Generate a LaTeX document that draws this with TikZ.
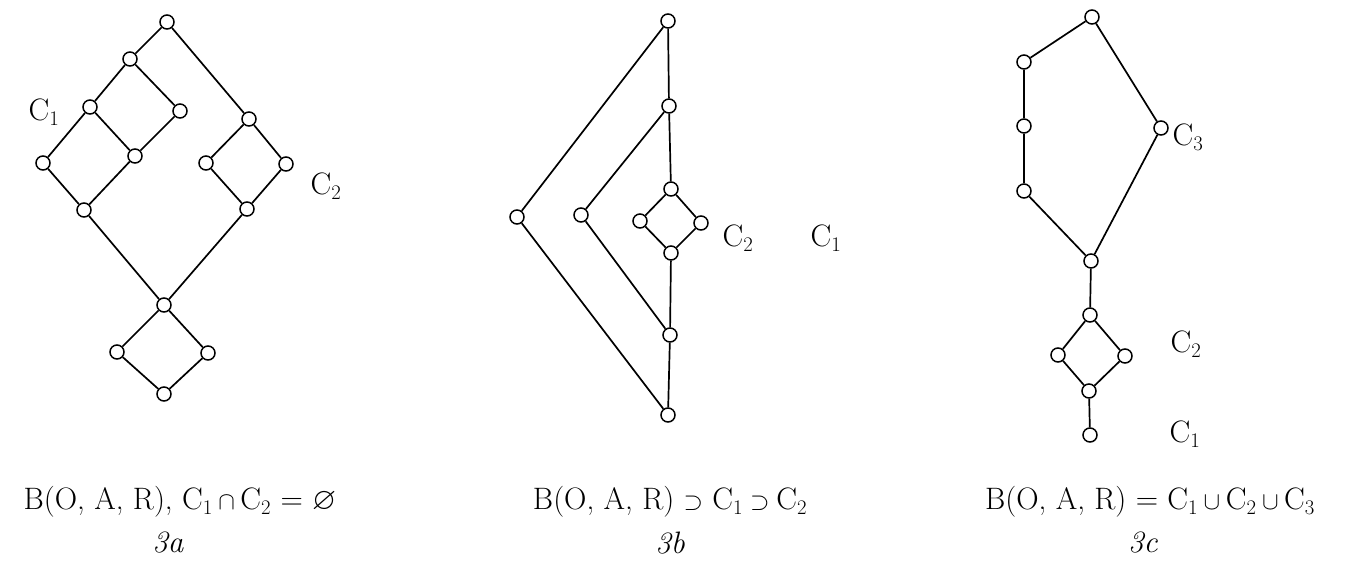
\documentclass[tikz,border=0pt]{standalone}
\usepackage{amssymb}
\usepackage{tikz}
\usetikzlibrary{positioning}

\tikzset{
  vert/.style={circle, draw, fill=white, inner sep=0pt, minimum size=14pt, line width=1.5pt},
  edge/.style={line width=1.7pt},
  lbl/.style={font=\fontsize{31}{36}\selectfont},
}

\begin{document}
\begin{tikzpicture}[x=1pt, y=-1pt]
  \useasboundingbox (0,0) rectangle (1345,563);

  % 3a
  \foreach \n/\x/\y in {a1/167/22, a2/130/59, a3/90/107, a4/180/111, a5/43/163, a6/135/156,
      a7/84/210, a8/249/119, a9/206/163, a10/286/164, a11/247/209, a12/164/305,
      a13/117/352, a14/208/353, a15/164/394}
    \node[vert] (\n) at (\x,\y) {};
  \foreach \p/\q in {a1/a2, a1/a8, a2/a3, a2/a4, a3/a5, a3/a6, a4/a6, a5/a7, a6/a7,
      a8/a9, a8/a10, a9/a11, a10/a11, a7/a12, a11/a12, a12/a13, a12/a14, a13/a15, a14/a15}
    \draw[edge] (\p) -- (\q);
  \node[lbl] (ca1) at (44,112) {C$_1$};
  \node[lbl] (ca2) at (326,186) {C$_2$};

  % 3b
  \foreach \n/\x/\y in {b1/668/21, b2/669/106, b3/671/189, b4/640/221, b5/701/223,
      b6/671/253, b7/670/335, b8/668/415, b9/517/217, b10/581/215}
    \node[vert] (\n) at (\x,\y) {};
  \foreach \p/\q in {b1/b2, b2/b3, b3/b4, b3/b5, b4/b6, b5/b6, b6/b7, b7/b8,
      b1/b9, b9/b8, b2/b10, b10/b7}
    \draw[edge] (\p) -- (\q);
  \node[lbl] (cb2) at (738,238) {C$_2$};
  \node[lbl] (cb1) at (826,238) {C$_1$};

  % 3c
  \foreach \n/\x/\y in {c1/1092/17, c2/1024/62, c3/1024/126, c4/1024/191, c5/1161/128,
      c6/1091/261, c7/1090/315, c8/1058/355, c9/1125/356, c10/1089/391, c11/1090/435}
    \node[vert] (\n) at (\x,\y) {};
  \foreach \p/\q in {c1/c2, c2/c3, c3/c4, c4/c6, c1/c5, c5/c6, c6/c7,
      c7/c8, c7/c9, c8/c10, c9/c10, c10/c11}
    \draw[edge] (\p) -- (\q);
  \node[lbl] (cc3) at (1188,137) {C$_3$};
  \node[lbl] (cc2) at (1186,344) {C$_2$};
  \node[lbl] (cc1) at (1185,434) {C$_1$};

  % captions
  \node[lbl] (capa) at (180,502) {B(O, A, R), C$_1\cap{}$C$_2$ = $\varnothing$};
  \node[lbl] (capb) at (670,502) {B(O, A, R) $\supset$ C$_1\supset{}$C$_2$};
  \node[lbl] (capc) at (1150,502) {B(O, A, R) = C$_1\cup{}$C$_2\cup{}$C$_3$};
  \node[lbl] (numa) at (168,543) {\textit{3a}};
  \node[lbl] (numb) at (670,543) {\textit{3b}};
  \node[lbl] (numc) at (1143,543) {\textit{3c}};
\end{tikzpicture}
\end{document}
